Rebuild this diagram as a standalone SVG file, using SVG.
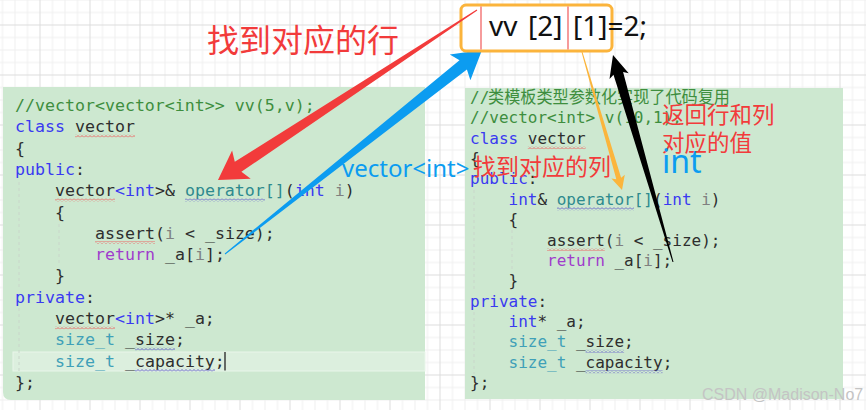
<svg xmlns="http://www.w3.org/2000/svg" width="866" height="410" viewBox="0 0 866 410">
<defs>
<pattern id="grid" x="39.5" y="24.5" width="50" height="50" patternUnits="userSpaceOnUse">
<path d="M13,0V50M25.5,0V50M38,0V50M0,13H50M0,25.5H50M0,38H50" stroke="#efefef" stroke-width="1" fill="none"/>
<path d="M0.5,0V50M0,0.5H50" stroke="#dcdcdc" stroke-width="1" fill="none"/>
</pattern>
<pattern id="wr" width="4" height="3" patternUnits="userSpaceOnUse"><path d="M0,2.5L2,0.5L4,2.5" fill="none" stroke="#ee5a5a" stroke-width="0.9"/></pattern>
<pattern id="wb" width="4" height="3" patternUnits="userSpaceOnUse"><path d="M0,2.5L2,0.5L4,2.5" fill="none" stroke="#5a55c8" stroke-width="0.9"/></pattern>
</defs>
<style>
.code{font-family:"DejaVu Sans Mono","Liberation Mono","Noto Sans CJK SC",monospace;fill:#2e2e2e}
.L{font-size:16.6px}
.R{font-size:16px}
.cm{fill:#3e8e3e}
.kw{fill:#3a3af0}
.op{fill:#2e8a8e}
.pa{fill:#808080}
.rt{fill:#a03ccc}
.ty{fill:#3fa0b8}
.cjk{font-family:"Noto Sans CJK SC",sans-serif}
.guide{stroke:#c9d6ca;stroke-width:1;stroke-dasharray:3 3;fill:none}
.zh{font-family:"Noto Sans CJK SC","Noto Sans",sans-serif;fill:#f23b3b}
.bl{font-family:"Noto Sans","Liberation Sans",sans-serif;fill:#0c9cf0}
.wr{fill:url(#wr)}
.wb{fill:url(#wb)}
</style>
<rect width="866" height="410" fill="#ffffff"/>
<rect width="866" height="410" fill="url(#grid)"/>

<g id="panel-left">
<path d="M3,87H425V400H11Q3,400 3,392Z" fill="#cde8d0"/>
<rect x="13" y="352" width="412" height="19" fill="#dcefde" stroke="#e9f5ea" stroke-width="1"/>
<path class="guide" d="M19,182V288M59,224V266M19,308V372"/>
<g class="code L">
<text x="15" y="111"><tspan class="cm">//vector&lt;vector&lt;int&gt;&gt; vv(5,v);</tspan></text>
<text x="15" y="132.3"><tspan class="kw">class</tspan> vector</text>
<text x="15" y="153.6">{</text>
<text x="15" y="174.9"><tspan class="kw">public</tspan>:</text>
<text x="55" y="196.2">vector<tspan class="kw">&lt;int</tspan>&gt;&amp; <tspan class="op">operator[]</tspan>(<tspan class="kw">int</tspan> <tspan class="pa">i</tspan>)</text>
<text x="55" y="217.5">{</text>
<text x="95" y="238.8">assert(<tspan class="pa">i</tspan> &lt; _size);</text>
<text x="95" y="260.1"><tspan class="rt">return</tspan> _a[<tspan class="pa">i</tspan>];</text>
<text x="55" y="281.4">}</text>
<text x="15" y="302.7"><tspan class="kw">private</tspan>:</text>
<text x="55" y="324">vector<tspan class="kw">&lt;int</tspan>&gt;* _a;</text>
<text x="55" y="345.3"><tspan class="ty">size_t</tspan> _size;</text>
<text x="55" y="366.6"><tspan class="ty">size_t</tspan> _capacity;</text>
<text x="15" y="387.9">};</text>
</g>
<rect class="wr" x="75" y="134.5" width="60" height="3"/>
<rect class="wr" x="55" y="198.5" width="60" height="3"/>
<rect class="wb" x="185" y="198.5" width="80" height="3"/>
<rect class="wr" x="95" y="241" width="60" height="3"/>
<rect class="wr" x="55" y="326.3" width="60" height="3"/>
<rect class="wb" x="135" y="347.5" width="40" height="3"/>
<rect class="wb" x="135" y="368.8" width="80" height="3"/>
<path d="M225,352V370.5" stroke="#222" stroke-width="1.3"/>
</g>

<g id="panel-right">
<rect x="465" y="88" width="378" height="311" fill="#cde8d0"/>
<path class="guide" d="M474,190V292M512,230V270M474,312V374"/>
<g class="code R">
<text x="470" y="103"><tspan class="cm">//</tspan><tspan class="cm cjk" x="488" font-size="17" textLength="242" lengthAdjust="spacingAndGlyphs">类模板类型参数化实现了代码复用</tspan></text>
<text x="470" y="123.4"><tspan class="cm">//vector&lt;int&gt; v(10,1);</tspan></text>
<text x="470" y="143.7"><tspan class="kw">class</tspan> vector</text>
<text x="470" y="164.1">{</text>
<text x="470" y="184.4"><tspan class="kw">public</tspan>:</text>
<text x="508.5" y="204.8"><tspan class="kw">int</tspan>&amp; <tspan class="op">operator[]</tspan>(<tspan class="kw">int</tspan> <tspan class="pa">i</tspan>)</text>
<text x="508.5" y="225.2">{</text>
<text x="547" y="245.5">assert(<tspan class="pa">i</tspan> &lt; _size);</text>
<text x="547" y="265.9"><tspan class="rt">return</tspan> _a[<tspan class="pa">i</tspan>];</text>
<text x="508.5" y="286.2">}</text>
<text x="470" y="306.6"><tspan class="kw">private</tspan>:</text>
<text x="508.5" y="327"><tspan class="kw">int</tspan>* _a;</text>
<text x="508.5" y="347.3"><tspan class="ty">size_t</tspan> _size;</text>
<text x="508.5" y="367.7"><tspan class="ty">size_t</tspan> _capacity;</text>
<text x="470" y="388">};</text>
</g>
<rect class="wr" x="527.8" y="146.2" width="57.8" height="3"/>
<rect class="wb" x="557" y="207.3" width="77" height="3"/>
<rect class="wr" x="547" y="248" width="57.8" height="3"/>
<rect class="wb" x="585.6" y="349.8" width="38.5" height="3"/>
<rect class="wb" x="585.6" y="370.2" width="77" height="3"/>
</g>

<g id="labels">
<text class="zh" x="207" y="52" font-size="32">找到对应的行</text>
<text class="bl" x="342" y="177" font-size="24">vector&lt;int&gt;</text>
<text class="zh" x="473" y="175" font-size="23">找到对应的列</text>
<text class="zh" x="662" y="123" font-size="22.5">返回行和列</text>
<text class="zh" x="662" y="151" font-size="22.5">对应的值</text>
<text class="bl" x="662" y="173" font-size="32">int</text>
<text x="702" y="400" font-family="'Liberation Sans',Arial,sans-serif" font-size="16" fill="#c4c4c4">CSDN @Madison-No7</text>
</g>

<g id="connectors">
<polygon id="arrow-blue" fill="#0c9cf0" points="224.7,253.6 459.5,60.2 449.8,54.5 482,50 470.4,80.3 466.9,69.6 225.3,254.4"/>
<polygon id="arrow-yellow" fill="#fbb53c" points="581.5,52.1 616.3,179.2 611.4,178.5 622,190 624.8,174.7 621.1,177.8 582.5,51.9"/>
<polygon id="arrow-black" fill="#000000" points="672.5,262.1 613.5,74.7 609.5,78.9 613,55 628.7,73.3 623.1,71.9 673.5,261.9"/>
</g>

<g id="expr">
<rect x="461" y="5" width="151" height="46" rx="5" fill="#ffffff" stroke="#fbb43c" stroke-width="3"/>
<path d="M481,6.5V49.5M568,6.5V49.5" stroke="#f05a5a" stroke-width="1.2"/>
<text font-family="'Noto Sans','Liberation Sans',sans-serif" font-size="28" fill="#111" y="36"><tspan x="489">vv</tspan><tspan x="528">[2]</tspan><tspan x="573">[1]=2;</tspan></text>
</g>

<g id="connector-red">
<polygon id="arrow-red" fill="#f23b3b" points="476.7,9.6 234.8,161.8 232.1,150.4 218,180 250.7,178.8 241.4,171.8 477.3,10.4"/>
</g>
</svg>
